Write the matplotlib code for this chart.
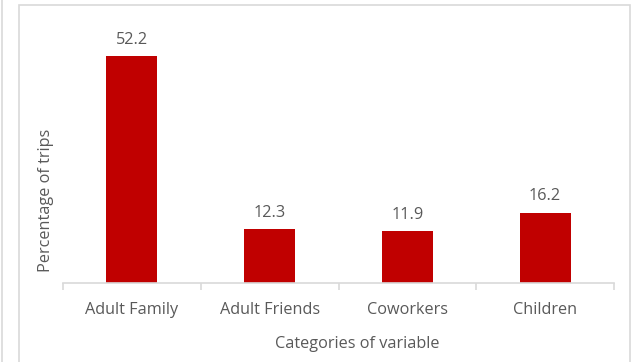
import matplotlib
matplotlib.use("Agg")
import matplotlib.pyplot as plt
from matplotlib.lines import Line2D
from matplotlib.patches import Rectangle

categories = ["Adult Family", "Adult Friends", "Coworkers", "Children"]
percentages = [52.2, 12.3, 11.9, 16.2]

plt.rcParams["font.family"] = ["Open Sans", "DejaVu Sans"]
text_color = "#595959"
grid_color = "#d9d9d9"
bar_color = "#C00000"

W, H = 631, 362
fig = plt.figure(figsize=(W / 100, H / 100), dpi=100)

# outer frames
fig.add_artist(Rectangle((19 / W, -0.05), (630 - 19) / W, (H - 5) / H + 0.05,
                         transform=fig.transFigure, fill=False,
                         edgecolor=grid_color, linewidth=1.2))
fig.add_artist(Line2D([2 / W, 2 / W], [0, 1], transform=fig.transFigure,
                      color=grid_color, linewidth=1.2))

ax = fig.add_axes([63 / W, (H - 283) / H, (614 - 63) / W, (283 - 22) / H])
x = range(len(categories))
bars = ax.bar(x, percentages, width=0.37, color=bar_color, zorder=2)

for xi, v in zip(x, percentages):
    ax.annotate(f"{v:.1f}", (xi, v), xytext=(0, 6), textcoords="offset points",
                ha="center", va="bottom", fontsize=11.7, color=text_color)

ax.set_xlim(-0.5, len(categories) - 0.5)
ax.set_ylim(0, 60)
ax.set_yticks([])
ax.set_xticks(list(x))
ax.set_xticklabels(categories, fontsize=11.7, color=text_color)
ax.tick_params(axis="x", which="major", length=0, pad=14)
ax.set_xticks([i - 0.5 for i in range(len(categories) + 1)], minor=True)
ax.tick_params(axis="x", which="minor", length=5, color=grid_color, width=1.2)

for s in ["top", "right", "left"]:
    ax.spines[s].set_visible(False)
ax.spines["bottom"].set_color(grid_color)
ax.spines["bottom"].set_linewidth(1.2)

fig.text(357 / W, 1 - 344 / H, "Categories of variable", ha="center", va="center",
         fontsize=11.7, color=text_color)
fig.text(46 / W, 1 - 200 / H, "Percentage of trips", ha="center", va="center",
         rotation=90, fontsize=11.7, color=text_color)

fig.savefig("out.png", dpi=100)
